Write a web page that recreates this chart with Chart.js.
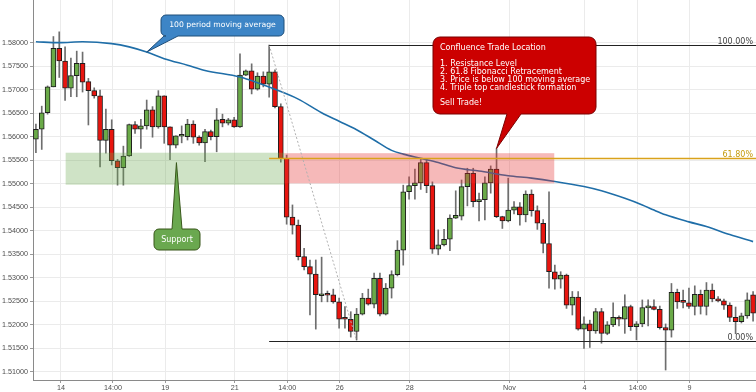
<!DOCTYPE html>
<html>
<head>
<meta charset="utf-8">
<script src="https://cdn.jsdelivr.net/npm/chart.js@4"></script>
<style>
  html, body { margin: 0; padding: 0; background: #fff; }
  #wrap { width: 756px; height: 392px; position: relative; }
</style>
</head>
<body>
<div id="wrap"><canvas id="chart"></canvas></div>
<script>
// ── DATA ────────────────────────────────────────────────────
// one entry per 4h candle, index 0..123
const candleOpen = [
  1.5595,1.5616,1.5651,1.5706,1.5788,1.5761,1.5703,1.5730,1.5756,1.5717,
  1.5698,1.5687,1.5592,1.5616,1.5549,1.5534,1.5559,1.5626,1.5616,1.5623,
  1.5657,1.5621,1.5687,1.5621,1.5582,1.5601,1.5600,1.5627,1.5599,1.5587,
  1.5611,1.5600,1.5637,1.5629,1.5636,1.5621,1.5731,1.5740,1.5701,1.5729,
  1.5712,1.5738,1.5664,1.5554,1.5429,1.5412,1.5345,1.5324,1.5308,1.5262,
  1.5264,1.5264,1.5249,1.5213,1.5212,1.5186,1.5223,1.5257,1.5244,1.5299,
  1.5223,1.5278,1.5307,1.5359,1.5483,1.5496,1.5502,1.5545,1.5496,1.5361,
  1.5370,1.5382,1.5427,1.5431,1.5494,1.5522,1.5462,1.5466,1.5502,1.5531,
  1.5430,1.5421,1.5444,1.5451,1.5434,1.5478,1.5443,1.5416,1.5373,1.5313,
  1.5297,1.5306,1.5242,1.5259,1.5191,1.5202,1.5187,1.5228,1.5182,1.5200,
  1.5216,1.5212,1.5239,1.5196,1.5202,1.5236,1.5239,1.5233,1.5194,1.5189,
  1.5269,1.5250,1.5247,1.5239,1.5265,1.5239,1.5274,1.5255,1.5251,1.5242,
  1.5216,1.5207,1.5219,1.5264
];
const candleHigh = [
  1.5627,1.5665,1.5708,1.5813,1.5823,1.5791,1.5767,1.5782,1.5780,1.5724,
  1.5704,1.5699,1.5659,1.5636,1.5552,1.5580,1.5627,1.5632,1.5637,1.5678,
  1.5664,1.5698,1.5687,1.5621,1.5602,1.5623,1.5637,1.5634,1.5602,1.5616,
  1.5614,1.5660,1.5648,1.5639,1.5641,1.5776,1.5742,1.5755,1.5736,1.5738,
  1.5795,1.5742,1.5670,1.5561,1.5455,1.5423,1.5363,1.5338,1.5338,1.5344,
  1.5272,1.5276,1.5257,1.5239,1.5228,1.5235,1.5267,1.5276,1.5310,1.5310,
  1.5288,1.5315,1.5379,1.5497,1.5515,1.5531,1.5552,1.5554,1.5504,1.5402,
  1.5403,1.5434,1.5485,1.5508,1.5533,1.5533,1.5480,1.5515,1.5538,1.5575,
  1.5431,1.5512,1.5462,1.5460,1.5485,1.5487,1.5453,1.5424,1.5483,1.5327,
  1.5313,1.5308,1.5271,1.5271,1.5217,1.5210,1.5235,1.5235,1.5207,1.5247,
  1.5219,1.5264,1.5242,1.5207,1.5253,1.5253,1.5253,1.5240,1.5202,1.5288,
  1.5276,1.5274,1.5278,1.5283,1.5274,1.5290,1.5287,1.5260,1.5255,1.5247,
  1.5238,1.5225,1.5268,1.5271
];
const candleLow = [
  1.5566,1.5573,1.5648,1.5706,1.5726,1.5677,1.5685,1.5685,1.5695,1.5625,
  1.5682,1.5536,1.5565,1.5540,1.5497,1.5497,1.5558,1.5607,1.5575,1.5616,
  1.5599,1.5618,1.5586,1.5551,1.5576,1.5587,1.5593,1.5586,1.5582,1.5547,
  1.5593,1.5568,1.5621,1.5625,1.5620,1.5620,1.5730,1.5691,1.5699,1.5706,
  1.5684,1.5661,1.5546,1.5414,1.5393,1.5338,1.5317,1.5221,1.5191,1.5249,
  1.5249,1.5246,1.5193,1.5193,1.5174,1.5168,1.5221,1.5242,1.5236,1.5219,
  1.5221,1.5257,1.5304,1.5327,1.5467,1.5467,1.5488,1.5481,1.5352,1.5349,
  1.5368,1.5358,1.5426,1.5423,1.5453,1.5451,1.5421,1.5423,1.5480,1.5428,
  1.5405,1.5419,1.5436,1.5412,1.5419,1.5431,1.5403,1.5353,1.5278,1.5276,
  1.5278,1.5235,1.5221,1.5189,1.5150,1.5152,1.5182,1.5161,1.5179,1.5196,
  1.5198,1.5182,1.5188,1.5168,1.5196,1.5198,1.5232,1.5191,1.5104,1.5174,
  1.5235,1.5236,1.5235,1.5221,1.5223,1.5221,1.5249,1.5249,1.5233,1.5207,
  1.5181,1.5204,1.5214,1.5208
];
const candleClose = [
  1.5616,1.5651,1.5706,1.5788,1.5761,1.5703,1.5730,1.5756,1.5716,1.5698,
  1.5687,1.5592,1.5616,1.5549,1.5534,1.5559,1.5626,1.5616,1.5623,1.5657,
  1.5621,1.5687,1.5621,1.5582,1.5602,1.5602,1.5627,1.5599,1.5587,1.5611,
  1.5600,1.5636,1.5629,1.5636,1.5621,1.5731,1.5740,1.5701,1.5729,1.5712,
  1.5738,1.5664,1.5554,1.5429,1.5412,1.5345,1.5324,1.5308,1.5264,1.5263,
  1.5263,1.5249,1.5212,1.5212,1.5186,1.5223,1.5257,1.5244,1.5299,1.5223,
  1.5278,1.5307,1.5359,1.5483,1.5496,1.5502,1.5545,1.5496,1.5361,1.5370,
  1.5382,1.5427,1.5433,1.5494,1.5522,1.5462,1.5466,1.5502,1.5531,1.5430,
  1.5421,1.5444,1.5451,1.5434,1.5478,1.5443,1.5416,1.5373,1.5313,1.5297,
  1.5306,1.5242,1.5259,1.5191,1.5202,1.5187,1.5228,1.5182,1.5200,1.5216,
  1.5212,1.5239,1.5196,1.5202,1.5237,1.5239,1.5233,1.5194,1.5189,1.5269,
  1.5249,1.5248,1.5239,1.5265,1.5239,1.5274,1.5255,1.5251,1.5242,1.5216,
  1.5207,1.5219,1.5253,1.5225
];

// 100 period moving average, read at selected candles
const maIndex = [0,4,8,13,16,19,22,26,29,35,38,41,45,49,52,55,58,61,63,66,69,72,76,81,85,89,94,97,101,104,106,108,112,115,119,123];
const maValue = [1.5802,1.5800,1.5802,1.5798,1.5791,1.5780,1.5766,1.5752,1.5741,1.5727,1.5715,1.5701,1.5680,1.5651,1.5633,1.5615,1.5593,1.5571,1.5563,1.5554,1.5545,1.5534,1.5527,1.5517,1.5512,1.5505,1.5494,1.5485,1.5469,1.5455,1.5444,1.5434,1.5419,1.5409,1.5392,1.5377];

// axis ticks
const xTickPos   = [4.3, 13.2, 22.2, 34.1, 43.1, 52.1, 64.1, 81.2, 94.1, 103.2, 112.1];
const xTickText  = ['14', '14:00', '19', '21', '14:00', '26', '28', 'Nov', '4', '14:00', '9'];
const yTickValues = [1.510,1.515,1.520,1.525,1.530,1.535,1.540,1.545,1.550,1.555,1.560,1.565,1.570,1.575,1.580];

// annotations
const swingHighIdx = 40, swingLowIdx = 55;
const swingHigh = 1.5795, swingLow = 1.5166;
const fibRatios = [1, 0.618, 0];
const fibLabels = ['100.00%', '61.80%', '0.00%'];
const supportZone    = { from: 5.1,  to: 42.6, lo: 1.5498, hi: 1.5566 };
const resistanceZone = { from: 42.6, to: 88.9, lo: 1.5501, hi: 1.5565 };

// ── BUILD ───────────────────────────────────────────────────
const UP = '#6aaa48', DOWN = '#e8150f';
const idx = candleOpen.map((_, i) => i);
const wickData = idx.map(i => ({ x: i, y: [candleLow[i], candleHigh[i]] }));
const bodyData = idx.map(i => ({ x: i, y: [candleOpen[i], candleClose[i]] }));
const bodyColors = idx.map(i => candleClose[i] >= candleOpen[i] ? UP : DOWN);
const maData = maIndex.map((x, k) => ({ x, y: maValue[k] }));

const tickFont = { family: 'Liberation Sans', size: 7.2 };

// kill the label overflow padding so the plot fills the canvas like the original
function noPad(s) {
  s.paddingTop = 0; s.paddingBottom = 0; s.paddingLeft = 0; s.paddingRight = 0;
}

function callout(ctx, b, tip, side, fill, stroke) {
  const { x, y, w, h, r } = b;
  ctx.beginPath();
  ctx.moveTo(x + r, y);
  if (side === 'top') { ctx.lineTo(b.p1, y); ctx.lineTo(tip.x, tip.y); ctx.lineTo(b.p2, y); }
  ctx.arcTo(x + w, y, x + w, y + h, r);
  ctx.arcTo(x + w, y + h, x, y + h, r);
  if (side === 'bottom') { ctx.lineTo(b.p2, y + h); ctx.lineTo(tip.x, tip.y); ctx.lineTo(b.p1, y + h); }
  ctx.arcTo(x, y + h, x, y, r);
  ctx.arcTo(x, y, x + w, y, r);
  ctx.closePath();
  ctx.fillStyle = fill;
  ctx.fill();
  ctx.strokeStyle = stroke;
  ctx.lineWidth = 1;
  ctx.stroke();
}

const overlay = {
  id: 'overlay',
  afterDatasetsDraw(chart) {
    const { ctx, chartArea: a, scales: { x, y } } = chart;
    const px = v => x.getPixelForValue(v);
    const py = v => y.getPixelForValue(v);
    ctx.save();

    // zones (drawn over the candles, semi transparent)
    const zone = (z, col) => {
      ctx.fillStyle = col;
      ctx.fillRect(px(z.from), py(z.hi), px(z.to) - px(z.from), py(z.lo) - py(z.hi));
    };
    zone(supportZone, 'rgba(106,168,79,0.32)');
    zone(resistanceZone, 'rgba(230,50,50,0.34)');

    // fibonacci retracement
    ctx.setLineDash([2, 2]);
    ctx.strokeStyle = '#b0b0b0';
    ctx.lineWidth = 1;
    ctx.beginPath();
    ctx.moveTo(px(swingHighIdx), py(swingHigh));
    ctx.lineTo(px(swingLowIdx), py(swingLow));
    ctx.stroke();
    ctx.setLineDash([]);

    ctx.font = '8px "DejaVu Sans"';
    ctx.textAlign = 'right';
    ctx.textBaseline = 'alphabetic';
    fibRatios.forEach((r, k) => {
      const lv = swingLow + r * (swingHigh - swingLow);
      const yy = Math.round(py(lv)) + 0.5;
      const gold = r === 0.618;
      ctx.strokeStyle = gold ? '#d9a21b' : '#222';
      ctx.lineWidth = gold ? 1.4 : 1.2;
      ctx.beginPath();
      ctx.moveTo(px(swingHighIdx), yy);
      ctx.lineTo(a.right, yy);
      ctx.stroke();
      ctx.fillStyle = gold ? '#c49a0a' : '#444';
      ctx.fillText(fibLabels[k], a.right - 3, yy - 2);
    });

    // callouts
    callout(ctx, { x: 161, y: 15, w: 123, h: 21, r: 5, p1: 164, p2: 178 },
      { x: px(19), y: py(1.5780) }, 'bottom', '#3d85c6', '#1f4e79');
    callout(ctx, { x: 433, y: 37, w: 163, h: 77, r: 7, p1: 507, p2: 521 },
      { x: px(79), y: py(candleHigh[79]) }, 'bottom', '#cc0000', '#7a0000');
    callout(ctx, { x: 154, y: 229, w: 46, h: 21, r: 5, p1: 172, p2: 182 },
      { x: px(24.1), y: py(1.5545) }, 'top', '#6aa84f', '#38571a');

    ctx.fillStyle = '#fff';
    ctx.textBaseline = 'middle';
    ctx.textAlign = 'center';
    ctx.font = '7.7px "DejaVu Sans"';
    ctx.fillText('100 period moving average', 222.5, 25.5);
    ctx.font = '8px "DejaVu Sans"';
    ctx.fillText('Support', 177, 240);

    ctx.textAlign = 'left';
    const lines = [
      ['Confluence Trade Location', 47.7],
      ['1. Resistance Level', 63.7],
      ['2. 61.8 Fibonacci Retracement', 71.9],
      ['3. Price is below 100 moving average', 80],
      ['4. Triple top candlestick formation', 88.1],
      ['Sell Trade!', 103]
    ];
    lines.forEach(([t, yy]) => ctx.fillText(t, 440, yy));

    ctx.restore();
  }
};

new Chart(document.getElementById('chart'), {
  type: 'bar',
  data: {
    datasets: [
      {
        type: 'line',
        label: 'MA100',
        data: maData,
        borderColor: '#1f6ea8',
        borderWidth: 1.6,
        pointRadius: 0,
        cubicInterpolationMode: 'monotone',
        fill: false,
        order: 0,
      },
      {
        label: 'body',
        data: bodyData,
        backgroundColor: bodyColors,
        borderColor: '#1e1e1e',
        borderWidth: 1,
        borderSkipped: false,
        barThickness: 5,
        minBarLength: 2,
        grouped: false,
        order: 1,
      },
      {
        label: 'wick',
        data: wickData,
        backgroundColor: '#6e6e6e',
        borderWidth: 0,
        barThickness: 1,
        grouped: false,
        order: 2,
      }
    ]
  },
  options: {
    responsive: true,
    maintainAspectRatio: false,
    animation: false,
    layout: { padding: 0 },
    plugins: { legend: { display: false }, tooltip: { enabled: false } },
    scales: {
      x: {
        type: 'linear',
        offset: false,
        min: -0.5,
        max: 123.5,
        afterBuildTicks: s => { s.ticks = xTickPos.map(v => ({ value: v })); },
        afterFit: s => { s.height = 12; noPad(s); },
        ticks: {
          autoSkip: false,
          maxRotation: 0,
          padding: 1,
          color: '#4d4d4d',
          font: tickFont,
          callback: (v, i) => xTickText[i]
        },
        grid: { offset: false, color: '#ebebeb', tickLength: 3, tickColor: '#9a9a9a' },
        border: { color: '#8a8a8a' }
      },
      y: {
        min: 1.50828,
        max: 1.58907,
        afterBuildTicks: s => { s.ticks = yTickValues.map(v => ({ value: v })); },
        afterFit: s => { s.width = 33; noPad(s); },
        ticks: {
          autoSkip: false,
          padding: 2,
          color: '#4d4d4d',
          font: tickFont,
          callback: v => v.toFixed(5)
        },
        grid: { color: '#ebebeb', tickLength: 3, tickColor: '#9a9a9a' },
        border: { color: '#8a8a8a' }
      }
    }
  },
  plugins: [overlay]
});
</script>
</body>
</html>
